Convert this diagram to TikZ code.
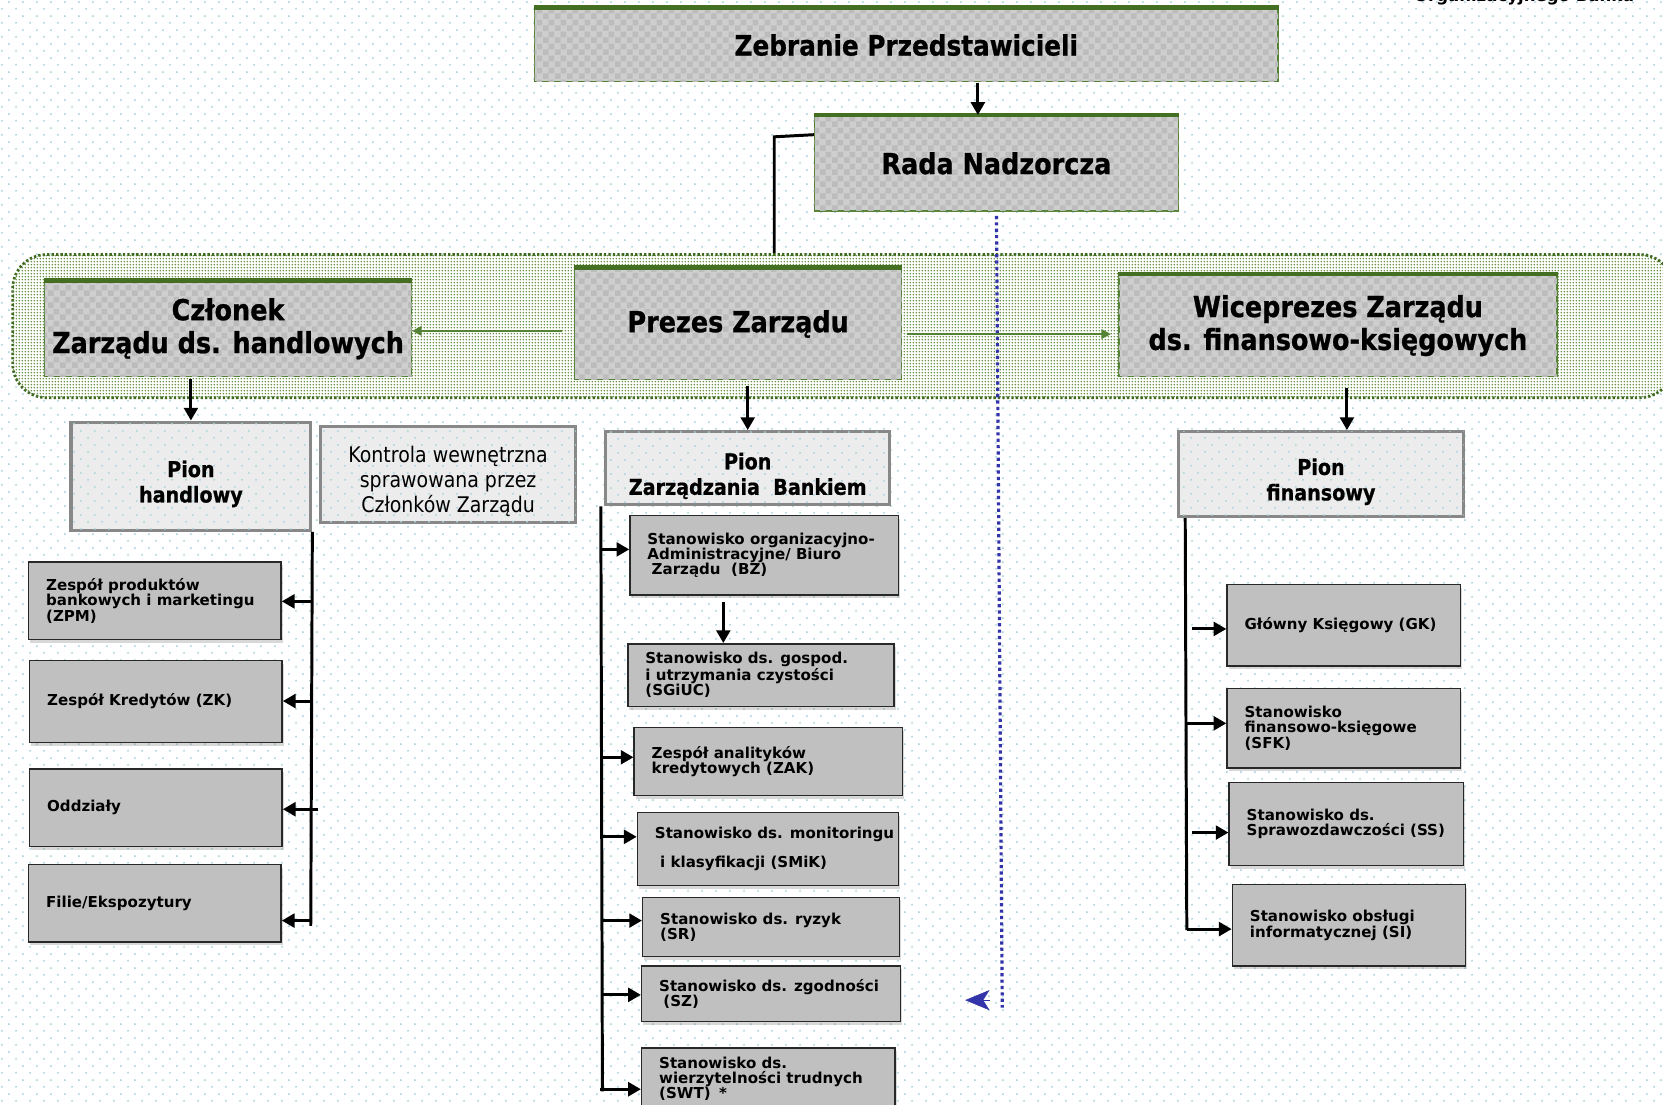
\documentclass[tikz,border=0pt]{standalone}
\usepackage{fontspec}
\setmainfont{DejaVu Sans}
\newfontfamily\headfont{DejaVu Sans}[FakeStretch=0.88,BoldFeatures={FakeBold=0.8}]
\usetikzlibrary{arrows.meta,patterns,shadows}

\definecolor{headgreen}{RGB}{84,130,53}
\definecolor{bargreen}{RGB}{68,110,34}
\definecolor{boardgreen}{RGB}{62,104,32}
\definecolor{boarddot}{RGB}{88,134,50}
\definecolor{headfill}{RGB}{206,206,206}
\definecolor{chk}{RGB}{188,188,188}
\definecolor{pionfill}{RGB}{236,236,236}
\definecolor{piondraw}{RGB}{136,136,136}
\definecolor{unitfill}{RGB}{192,192,192}
\definecolor{unitdraw}{RGB}{40,40,40}
\definecolor{bgdot}{RGB}{168,212,222}
\definecolor{dotblue}{RGB}{51,51,170}

% light dotted paper in the background
\pgfdeclarepatternformonly{bgdots}{\pgfpointorigin}{\pgfqpoint{13.5pt}{13pt}}{\pgfqpoint{13.5pt}{13pt}}{%
  \pgfpathcircle{\pgfqpoint{3pt}{3pt}}{1.05pt}%
  \pgfpathcircle{\pgfqpoint{9.75pt}{9.5pt}}{1.05pt}%
  \pgfusepath{fill}}
% dense dots of the board area
\pgfdeclarepatternformonly{boarddots}{\pgfpointorigin}{\pgfqpoint{3pt}{3pt}}{\pgfqpoint{3pt}{3pt}}{%
  \pgfpathcircle{\pgfqpoint{1.5pt}{1.5pt}}{0.9pt}%
  \pgfusepath{fill}}

\begin{document}
\begin{tikzpicture}[x=1pt,y=-1pt,
    headbox/.style={draw=headgreen,line width=1.2pt,fill=headfill,
      postaction={pattern=checkerboard,pattern color=chk},align=center,inner sep=0pt,
      font=\headfont\bfseries\fontsize{27.3pt}{31pt}\selectfont},
    topbar/.style={draw=bargreen,line width=4.5pt},
    board/.style={draw=boardgreen,line width=2.6pt,dash pattern=on 2.2pt off 2pt,rounded corners=32pt,
      fill=white,postaction={pattern=boarddots,pattern color=boarddot}},
    pionbox/.style={draw=piondraw,line width=3pt,fill=pionfill,
      postaction={pattern=bgdots,pattern color=bgdot},align=center,inner sep=0pt,
      font=\headfont\bfseries\fontsize{20.5pt}{24pt}\selectfont},
    unitbox/.style={draw=unitdraw,line width=1.4pt,fill=unitfill,inner sep=0pt,
      drop shadow={shadow xshift=1.5pt,shadow yshift=-3pt,opacity=.3}},
    unittext/.style={anchor=west,xshift=17pt,align=left,inner sep=0pt,
      font=\bfseries\fontsize{14.2pt}{14.4pt}\selectfont},
    conn/.style={line width=2.8pt},
    arr/.style={line width=2.8pt,-{Triangle[length=12pt,width=13pt]}},
    garr/.style={draw=headgreen,line width=1.8pt,-{Triangle[length=9pt,width=9pt]}},
    dotline/.style={draw=dotblue,line width=3pt,dash pattern=on 3pt off 3pt}]

% Page and background
\useasboundingbox (0,0) rectangle (1568,1041);
\clip (0,0) rectangle (1568,1041);
\fill[white] (0,0) rectangle (1568,1041);
\fill[pattern=bgdots,pattern color=bgdot] (0,0) rectangle (1568,1041);

% Cut off page title
\node[anchor=base,inner sep=0pt,font=\bfseries\fontsize{15.6pt}{18pt}\selectfont] (title) at (1437,1) {Organizacyjnego Banku};

% Management board area
\node[board,minimum width=1566pt,minimum height=135pt] (board) at (795,307.5) {};

% Governing bodies
\node[headbox,font=\headfont\bfseries\fontsize{26.5pt}{30pt}\selectfont,
      minimum width=701pt,minimum height=69pt] (zeb) at (854.5,42.5) {Zebranie Przedstawicieli};
\node[headbox,minimum width=343pt,minimum height=90pt] (rada) at (939.5,154) {Rada Nadzorcza};
\node[headbox,minimum width=346pt,minimum height=90pt] (czl) at (215,310) {Członek\\Zarządu ds. handlowych};
\node[headbox,minimum width=308pt,minimum height=105pt] (prez) at (696,305.5) {Prezes Zarządu};
\node[headbox,minimum width=413pt,minimum height=96pt] (wice) at (1261.5,307) {Wiceprezes Zarządu\\ds. finansowo-księgowych};
\foreach \n in {zeb,rada,czl,prez,wice}
  \draw[topbar] (\n.north west) -- (\n.north east);

% Divisions
\node[pionbox,minimum width=226pt,minimum height=102pt] (pionh) at (180,449) {\rule{0pt}{30pt}Pion\\handlowy};
\node[pionbox,font=\headfont\fontsize{20.3pt}{23.5pt}\selectfont,
      minimum width=241pt,minimum height=91pt] (kontr) at (422.5,447.5) {\rule{0pt}{28pt}Kontrola wewnętrzna\\sprawowana przez\\Członków Zarządu};
\node[pionbox,minimum width=268pt,minimum height=69pt] (pionz) at (705,441.5) {\rule{0pt}{30pt}Pion\\Zarządzania~~Bankiem};
\node[pionbox,minimum width=269pt,minimum height=80pt] (pionf) at (1245.5,447) {\rule{0pt}{30pt}Pion\\finansowy};

% Commercial units
\node[unitbox,minimum width=238pt,minimum height=73pt,
      label={[unittext]west:{Zespół produktów\\bankowych i marketingu\\(ZPM)}}] (zpm) at (146,566.5) {};
\node[unitbox,minimum width=238pt,minimum height=77pt,
      label={[unittext]west:{Zespół Kredytów (ZK)}}] (zk) at (147,661.5) {};
\node[unitbox,minimum width=238pt,minimum height=73pt,
      label={[unittext]west:{Oddziały}}] (oddz) at (147,761.5) {};
\node[unitbox,minimum width=238pt,minimum height=73pt,
      label={[unittext]west:{Filie/Ekspozytury}}] (filie) at (146,851.5) {};

% Bank management units
\node[unitbox,minimum width=253pt,minimum height=75pt,
      label={[unittext]west:{Stanowisko organizacyjno-\\Administracyjne/ Biuro\\\hspace*{4pt}Zarządu~~(BZ)}}] (bz) at (720.5,523.5) {};
\node[unitbox,minimum width=251pt,minimum height=59pt,
      label={[unittext]west:{Stanowisko ds. gospod.\\i utrzymania czystości\\(SGiUC)}}] (sgiuc) at (717.5,636.5) {};
\node[unitbox,minimum width=253pt,minimum height=64pt,
      label={[unittext]west:{Zespół analityków\\kredytowych (ZAK)}}] (zak) at (724.5,718) {};
\node[unitbox,minimum width=246pt,minimum height=69pt,
      label={[unittext,font=\bfseries\fontsize{14.2pt}{28pt}\selectfont]west:{Stanowisko ds. monitoringu\\\hspace*{5pt}i klasyfikacji (SMiK)}}] (smik) at (724,800.5) {};
\node[unitbox,minimum width=242pt,minimum height=56pt,
      label={[unittext]west:{Stanowisko ds. ryzyk\\(SR)}}] (sr) at (727,874) {};
\node[unitbox,minimum width=244pt,minimum height=52pt,
      label={[unittext]west:{Stanowisko ds. zgodności\\\hspace*{4pt}(SZ)}}] (sz) at (727,937) {};
\node[unitbox,minimum width=239pt,minimum height=58pt,
      label={[unittext]west:{Stanowisko ds.\\wierzytelności trudnych\\(SWT)\hspace{8pt}*}}] (swt) at (724.5,1017) {};

% Finance units
\node[unitbox,minimum width=220pt,minimum height=77pt,
      label={[unittext]west:{Główny Księgowy (GK)}}] (gk) at (1267,589.5) {};
\node[unitbox,minimum width=220pt,minimum height=75pt,
      label={[unittext]west:{Stanowisko\\finansowo-księgowe\\(SFK)}}] (sfk) at (1267,686.5) {};
\node[unitbox,minimum width=221pt,minimum height=78pt,
      label={[unittext]west:{Stanowisko ds.\\Sprawozdawczości (SS)}}] (ss) at (1269.5,777) {};
\node[unitbox,minimum width=220pt,minimum height=77pt,
      label={[unittext]west:{Stanowisko obsługi\\informatycznej (SI)}}] (si) at (1272,872.5) {};

% Supervision lines
\coordinate (zd) at (922,78);
\draw[arr] (zd) -- (zd |- rada.north);
\coordinate (rbend) at (730,129);
\draw[conn] ([yshift=27pt]rada.west) -- (rbend) -- (rbend |- board.north);
\coordinate (rend) at (945,950);
\draw[dotline,shorten <=4pt] (rada.south) -- (rend);
\coordinate (btail) at (933,943);
\coordinate (btip) at (910,943);
\draw[draw=dotblue,line width=0.5pt,-{Stealth[length=23pt,width=19pt,inset=6pt]}] (btail) -- (btip);

% Board links
\coordinate (gl) at (530,312);
\draw[garr] (gl) -- (gl -| czl.east);
\coordinate (gr) at (855,315);
\draw[garr,shorten >=7pt] (gr) -- (gr -| wice.west);

% Down to divisions
\draw[arr,shorten <=2pt] (czl.south -| pionh.north) -- (pionh.north);
\draw[arr,shorten <=5pt] (prez.south -| pionz.north) -- (pionz.north);
\coordinate (wd) at (1270,366);
\draw[arr] (wd) -- (wd |- pionf.north);

% Trunks
\coordinate (hend) at (293,873);
\draw[conn] (pionh.south east) -- (hend);
\coordinate (zend) at (568,1029);
\draw[conn] ([xshift=-3pt]pionz.south west) -- (zend);
\coordinate (fend) at (1119,877);
\draw[conn] ([xshift=8pt]pionf.south west) -- (fend);

% Branches
\foreach \n/\x/\y in {zpm/293/567,zk/293/661,oddz/300/763,filie/293/868}{
  \coordinate (b\n) at (\x,\y);
  \draw[arr] (b\n) -- (b\n -| \n.east);
}
\foreach \n/\x/\y in {bz/568/518,zak/568/714,smik/568/789,sr/568/868,sz/568/938,swt/566/1027}{
  \coordinate (b\n) at (\x,\y);
  \draw[arr] (b\n) -- (b\n -| \n.west);
}
\foreach \n/\x/\y in {gk/1124/593,sfk/1119/682,ss/1124/785,si/1119/876}{
  \coordinate (b\n) at (\x,\y);
  \draw[arr] (b\n) -- (b\n -| \n.west);
}
\coordinate (bd) at (682,568);
\draw[arr] (bd) -- (bd |- sgiuc.north);

\end{tikzpicture}
\end{document}
